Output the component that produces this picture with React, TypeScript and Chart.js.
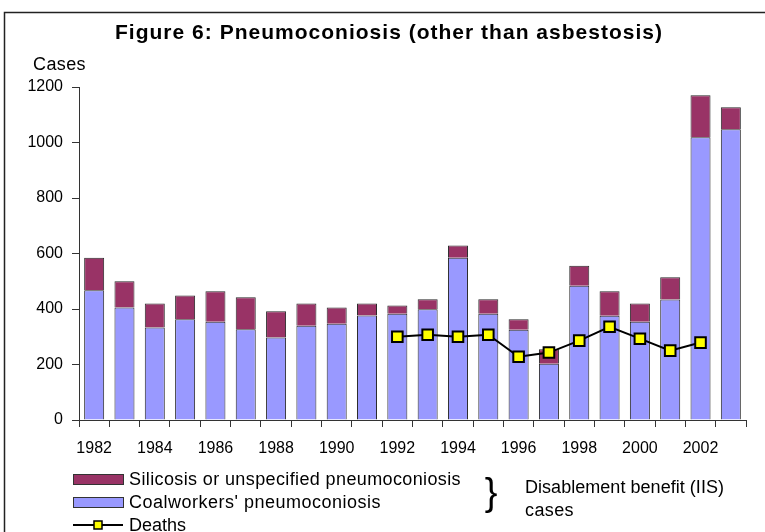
import React, { useEffect, useRef } from 'react';
import { Chart, registerables } from 'chart.js';

Chart.register(...registerables);

const years = ['1982','1983','1984','1985','1986','1987','1988','1989','1990','1991','1992','1993','1994','1995','1996','1997','1998','1999','2000','2001','2002','2003'];
const shownYearLabels = ['1982','1984','1986','1988','1990','1992','1994','1996','1998','2000','2002'];
const coalworkers = [468,405,333,363,354,327,297,340,347,377,383,399,585,383,325,203,484,376,354,434,1019,1048];
const silicosis = [117,95,87,86,110,115,95,80,58,43,30,36,44,52,38,52,72,88,66,80,151,79];
const deaths = [null,null,null,null,null,null,null,null,null,null,300,307,300,307,228,243,286,336,293,250,279,null];
const yTicks = [0,200,400,600,800,1000,1200];

const titleText = 'Figure 6: Pneumoconiosis (other than asbestosis)';
const yTitle = 'Cases';
const legendLabels = ['Silicosis or unspecified pneumoconiosis', "Coalworkers' pneumoconiosis", 'Deaths'];
const sideNote = ['Disablement benefit (IIS)', 'cases'];

const FONT = "'Liberation Sans', Arial, sans-serif";

function fitText(ctx: CanvasRenderingContext2D, text: string, x: number, y: number, width: number, align: 'left' | 'center') {
  (ctx as any).letterSpacing = '0px';
  const w = ctx.measureText(text).width;
  const sp = Math.max(-1, Math.min(1.5, (width - w) / text.length));
  (ctx as any).letterSpacing = sp + 'px';
  ctx.textAlign = 'left';
  const start = align === 'center' ? x - (w + sp * text.length) / 2 : x;
  ctx.fillText(text, start, y);
  (ctx as any).letterSpacing = '0px';
}

const decorPlugin = {
  id: 'decor',
  afterDraw(chart: any) {
    const ctx: CanvasRenderingContext2D = chart.ctx;
    ctx.save();
    // frame
    ctx.strokeStyle = '#222';
    ctx.lineWidth = 1.5;
    ctx.beginPath();
    ctx.moveTo(4.5, chart.height);
    ctx.lineTo(4.5, 12.5);
    ctx.lineTo(chart.width, 12.5);
    ctx.stroke();

    ctx.fillStyle = '#000';
    ctx.textBaseline = 'alphabetic';
    // title
    ctx.font = 'bold 21px ' + FONT;
    fitText(ctx, titleText, 389, 39, 548, 'center');
    // y title
    ctx.font = '18px ' + FONT;
    fitText(ctx, yTitle, 33, 70, 53, 'left');

    // legend
    const ds = chart.data.datasets;
    const boxX = 73, boxW = 50, textX = 129;
    ctx.font = '18px ' + FONT;
    // silicosis
    ctx.fillStyle = ds[1].backgroundColor;
    ctx.fillRect(boxX, 474, boxW, 10);
    ctx.strokeStyle = '#333';
    ctx.lineWidth = 1;
    ctx.strokeRect(boxX + 0.5, 474.5, boxW, 10);
    ctx.fillStyle = '#000';
    fitText(ctx, legendLabels[0], textX, 485, 332, 'left');
    // coalworkers
    ctx.fillStyle = ds[0].backgroundColor;
    ctx.fillRect(boxX, 497, boxW, 10);
    ctx.strokeRect(boxX + 0.5, 497.5, boxW, 10);
    ctx.fillStyle = '#000';
    fitText(ctx, legendLabels[1], textX, 508, 252, 'left');
    // deaths
    ctx.strokeStyle = '#000';
    ctx.lineWidth = 2;
    ctx.beginPath();
    ctx.moveTo(boxX, 525);
    ctx.lineTo(boxX + boxW, 525);
    ctx.stroke();
    ctx.fillStyle = ds[2].pointBackgroundColor;
    ctx.fillRect(94, 521, 8, 8);
    ctx.lineWidth = 1.5;
    ctx.strokeRect(94, 521, 8, 8);
    ctx.fillStyle = '#000';
    fitText(ctx, legendLabels[2], textX, 531, 57, 'left');

    // brace
    ctx.font = '38px ' + FONT;
    ctx.textAlign = 'center';
    ctx.textBaseline = 'middle';
    ctx.fillText('}', 491, 495);
    ctx.textBaseline = 'alphabetic';

    // side note
    ctx.font = '18px ' + FONT;
    fitText(ctx, sideNote[0], 525, 493, 199, 'left');
    fitText(ctx, sideNote[1], 525, 516, 49, 'left');
    ctx.restore();
  },
};

export default function App() {
  const ref = useRef<HTMLCanvasElement>(null);
  useEffect(() => {
    const chart = new Chart(ref.current as HTMLCanvasElement, {
      type: 'bar',
      data: {
        labels: years,
        datasets: [
          {
            type: 'bar',
            label: legendLabels[1],
            data: coalworkers,
            backgroundColor: '#9999FF',
            borderColor: '#2a2a2a',
            borderWidth: 1,
            stack: 'iis',
            barPercentage: 0.66,
            categoryPercentage: 1,
            order: 2,
          },
          {
            type: 'bar',
            label: legendLabels[0],
            data: silicosis,
            backgroundColor: '#993366',
            borderColor: '#2a2a2a',
            borderWidth: 1,
            stack: 'iis',
            barPercentage: 0.66,
            categoryPercentage: 1,
            order: 2,
          },
          {
            type: 'line',
            label: legendLabels[2],
            data: deaths as any,
            borderColor: '#000',
            borderWidth: 2,
            pointStyle: 'rect',
            pointRadius: 7.5,
            pointBackgroundColor: '#FFFF00',
            pointBorderColor: '#000',
            pointBorderWidth: 2,
            stack: 'deaths',
            spanGaps: false,
            order: 0,
          } as any,
        ],
      },
      options: {
        animation: false,
        responsive: true,
        maintainAspectRatio: false,
        layout: { padding: { top: 87, left: 0, right: 19, bottom: 72 } },
        plugins: {
          legend: { display: false },
          tooltip: { enabled: false },
          title: { display: false },
        },
        scales: {
          x: {
            stacked: true,
            afterFit: (s: any) => { s.height = 40; },
            border: { color: '#333', width: 1 },
            grid: { drawOnChartArea: false, drawTicks: true, tickLength: 7, color: '#333', offset: true },
            ticks: {
              autoSkip: false,
              maxRotation: 0,
              padding: 12,
              color: '#000',
              font: { family: FONT, size: 16 },
              callback: function (this: any, value: any, index: number) {
                const lbl = years[index];
                return shownYearLabels.includes(lbl) ? lbl : '';
              },
            },
          },
          y: {
            stacked: true,
            min: yTicks[0],
            max: yTicks[yTicks.length - 1],
            afterFit: (s: any) => { s.width = 79; },
            border: { color: '#333', width: 1 },
            grid: { drawOnChartArea: false, drawTicks: true, tickLength: 7, color: '#333' },
            afterBuildTicks: (s: any) => { s.ticks = yTicks.map((v) => ({ value: v })); },
            ticks: {
              padding: 9,
              color: '#000',
              font: { family: FONT, size: 16 },
              callback: (value: any) => String(value),
            },
          },
        },
      },
      plugins: [decorPlugin],
    });
    return () => chart.destroy();
  }, []);
  return (
    <div style={{ position: 'fixed', left: 0, top: 0, width: 765, height: 532, background: '#fff' }}>
      <canvas ref={ref} />
    </div>
  );
}
